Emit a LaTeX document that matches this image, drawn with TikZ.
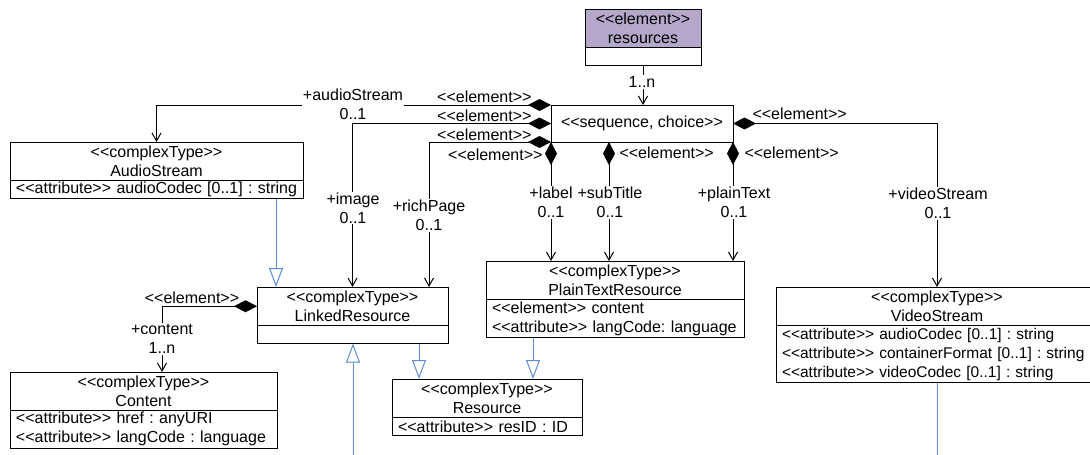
\documentclass[tikz,border=0pt]{standalone}
\usepackage{fontspec}
\setmainfont{Liberation Sans}[Ligatures=TeXOff]
\usetikzlibrary{arrows.meta}
\frenchspacing
\definecolor{resfill}{RGB}{180,167,202}
\definecolor{genblue}{RGB}{91,141,214}
\tikzset{
	classhead/.style={draw, anchor=north, outer sep=0pt, inner xsep=6pt, inner ysep=0pt, align=center, minimum height=38.5pt},
	classbody/.style={draw, anchor=north, outer sep=0pt, inner xsep=6pt, inner ysep=0pt, align=left, minimum height=#1},
	comp/.style={{Diamond[length=23pt, width=12pt]}-{Straight Barb[length=8pt, width=9pt]}},
	gen/.style={genblue, -{Triangle[open, fill=white, length=19pt, width=14pt]}},
	role/.style={fill=white, inner sep=1pt, align=center},
	stereo/.style={inner sep=0pt}
}

\begin{document}
\begin{tikzpicture}[x=1pt, y=-1pt, line width=1pt, font=\fontsize{16}{19}\selectfont]
	\useasboundingbox (0,0) rectangle (1090,455);
	\clip (0,0) rectangle (1090,455);

	\node [classhead, fill=resfill, text width=104pt] (reshead) at (643,9) {<<element>>\\resources};
	\node [classbody=18pt, text width=104pt] (resbody) at (reshead.south) {};
	\node [draw, outer sep=0pt, minimum width=182pt, minimum height=37pt, inner sep=0pt] (seq) at (642,123.5) {<<sequence, choice>>};

	\node [classhead, text width=281pt] (audiohead) at (156.5,142) {<<complexType>>\\AudioStream};
	\node [classbody=18pt, text width=281pt] (audiobody) at (audiohead.south) {\mbox{<<attribute>> audioCodec [0..1] : string}};

	\node [classhead, text width=179pt] (linkedhead) at (352.5,287) {<<complexType>>\\LinkedResource};
	\node [classbody=18pt, text width=179pt] (linkedbody) at (linkedhead.south) {};

	\node [classhead, text width=255pt] (contenthead) at (143.5,372) {<<complexType>>\\Content};
	\node [classbody=37.5pt, text width=255pt] (contentbody) at (contenthead.south) {<<attribute>> href : anyURI\\<<attribute>> langCode : language};

	\node [classhead, text width=246pt] (texthead) at (615,261) {<<complexType>>\\PlainTextResource};
	\node [classbody=38pt, text width=246pt] (textbody) at (texthead.south) {<<element>> content\\<<attribute>> langCode: language};

	\node [classhead, text width=178pt] (reshead2) at (487,379) {<<complexType>>\\Resource};
	\node [classbody=18pt, text width=178pt] (resbody2) at (reshead2.south) {<<attribute>> resID : ID};

	\node [classhead, text width=310pt] (videohead) at (937,287) {<<complexType>>\\VideoStream};
	\node [classbody=57pt, text width=310pt, font=\fontsize{15.5}{19}\selectfont] (videobody) at (videohead.south) {\mbox{<<attribute>> audioCodec [0..1] : string}\\\mbox{<<attribute>> containerFormat [0..1] : string}\\\mbox{<<attribute>> videoCodec [0..1] : string}};

	\coordinate (richin) at ([xshift=76.5pt]linkedhead.north);
	\coordinate (subout) at ([xshift=58pt]seq.south west);
	\coordinate (contentin) at ([xshift=18.5pt]contenthead.north);
	\coordinate (audioout) at ([xshift=-27pt]audiobody.south east);
	\coordinate (linkedout) at ([xshift=-29pt]linkedbody.south east);
	\coordinate (textout) at ([xshift=47pt]textbody.south west);
	\coordinate (lbot) at (353,455);

	\draw [-{Straight Barb[length=8pt, width=9pt]}] (resbody.south) -- (resbody.south |- seq.north);
	\draw [comp] (seq.north west) -| (audiohead.north);
	\draw [comp] (seq.west) -| (linkedhead.north);
	\draw [comp] (seq.south west) -| (richin);
	\draw [comp] (seq.south west) -- (seq.south west |- texthead.north);
	\draw [comp] (subout) -- (subout |- texthead.north);
	\draw [comp] (seq.south east) -- (seq.south east |- texthead.north);
	\draw [comp] (seq.east) -| (videohead.north);
	\draw [comp] (linkedhead.west) -| (contentin);

	\draw [gen] (audioout) -- (audioout |- linkedhead.north);
	\draw [gen] (linkedout) -- (linkedout |- reshead2.north);
	\draw [gen] (textout) -- (textout |- reshead2.north);
	\draw [gen] (lbot) -- (lbot |- linkedbody.south);
	\draw [genblue] (videobody.south) -- (videobody.south |- lbot);

	\node [role] at (642,82) {1..n};
	\node [role] at (353,104) {+audioStream\\0..1};
	\node [role] at (353,208) {+image\\0..1};
	\node [role] at (429,215.5) {+richPage\\0..1};
	\node [role] at (551,202.5) {+label\\0..1};
	\node [role] at (610,202.5) {+subTitle\\0..1};
	\node [role] at (734,202.5) {+plainText\\0..1};
	\node [role] at (938,203.5) {+videoStream\\0..1};
	\node [role] at (162,339) {+content\\1..n};

	\node [stereo, anchor=east] at (532,97) {<<element>>};
	\node [stereo, anchor=east] at (532,116) {<<element>>};
	\node [stereo, anchor=east] at (532,135) {<<element>>};
	\node [stereo, anchor=east] at (543,155) {<<element>>};
	\node [stereo, anchor=west] at (619,153) {<<element>>};
	\node [stereo, anchor=west] at (744,153) {<<element>>};
	\node [stereo, anchor=west] at (752,114) {<<element>>};
	\node [stereo] at (192,298) {<<element>>};
\end{tikzpicture}
\end{document}
